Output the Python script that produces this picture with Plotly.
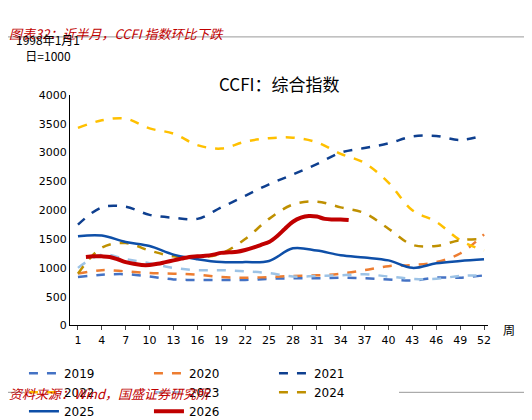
import plotly.graph_objects as go

weeks = [1, 4, 7, 10, 13, 16, 19, 22, 25, 28, 31, 34, 37, 40, 43, 46, 49, 52]
v2019 = [840, 880, 890, 850, 800, 790, 790, 790, 810, 820, 820, 830, 820, 800, 780, 830, 830, 870]
v2020 = [900, 960, 940, 910, 900, 880, 840, 830, 840, 860, 870, 900, 960, 1030, 1050, 1100, 1250, 1580]
v2021 = [1750, 2050, 2060, 1920, 1870, 1850, 2050, 2250, 2450, 2620, 2800, 3000, 3080, 3160, 3280, 3290, 3220, 3300]
v2022 = [3430, 3560, 3590, 3420, 3330, 3130, 3070, 3190, 3250, 3260, 3180, 2980, 2820, 2480, 2000, 1800, 1480, 1300]
v2023 = [1000, 1230, 1150, 1080, 1000, 960, 960, 940, 910, 850, 860, 870, 890, 850, 810, 810, 860, 870]
v2024 = [900, 1350, 1430, 1300, 1200, 1180, 1250, 1500, 1850, 2100, 2150, 2050, 1950, 1680, 1400, 1380, 1480, 1500]
v2025 = [1550, 1560, 1450, 1380, 1230, 1150, 1100, 1100, 1120, 1340, 1300, 1220, 1180, 1130, 1000, 1080, 1120, 1150]
weeks2026 = list(range(2, 36))
v2026 = [1190, 1200, 1200, 1190, 1150, 1100, 1070, 1050, 1050, 1070, 1100, 1130, 1160, 1190, 1200, 1210, 1230,
         1260, 1270, 1280, 1310, 1350, 1400, 1450, 1550, 1680, 1800, 1870, 1900, 1890, 1850, 1840, 1840, 1830]

series = [
    ("2019", weeks, v2019, "#4472C4", "dash", 2.5),
    ("2020", weeks, v2020, "#ED7D31", "dash", 2.5),
    ("2021", weeks, v2021, "#0E3F8F", "dash", 2.5),
    ("2022", weeks, v2022, "#FFC000", "dash", 2.5),
    ("2023", weeks, v2023, "#9DC3E6", "dash", 2.5),
    ("2024", weeks, v2024, "#BF9000", "dash", 2.5),
    ("2025", weeks, v2025, "#0E4FA8", "solid", 2.5),
    ("2026", weeks2026, v2026, "#C00000", "solid", 4),
]

fig = go.Figure()
for name, x, y, color, dash, w in series:
    fig.add_trace(go.Scatter(x=x, y=y, name=name, mode="lines",
                             line=dict(color=color, dash=dash, width=w, shape="spline")))

fig.update_layout(
    width=532, height=420, plot_bgcolor="white", paper_bgcolor="white",
    margin=dict(l=62, r=52, t=87, b=95),
    font=dict(family="DejaVu Sans, Noto Sans CJK SC", size=11, color="black"),
    legend=dict(orientation="h", xref="container", yref="container", x=0.03, y=0.165,
                yanchor="top", entrywidth=80, font=dict(size=12), tracegroupgap=0),
)
fig.update_xaxes(range=[0, 52.5], tickvals=weeks, showline=True, linecolor="black",
                 ticks="outside", ticklen=4, showgrid=False, zeroline=False)
fig.update_yaxes(range=[0, 4000], dtick=500, showline=True, linecolor="black",
                 ticks="", showgrid=False, zeroline=False)

def py(p):
    return (325 - p) / 238

fig.add_annotation(text="<i>图表32：近半月，CCFI 指数环比下跌</i>", xref="paper", yref="paper",
                   x=-62 / 410, y=py(12), xanchor="left", showarrow=False,
                   font=dict(family="Noto Sans CJK SC", size=13, color="#C00000"))
fig.add_annotation(text="<i>资料来源：Wind，国盛证券研究所</i>", xref="paper", yref="paper",
                   x=-62 / 410, y=py(407), xanchor="left", showarrow=False,
                   font=dict(family="Noto Sans CJK SC", size=13, color="#C00000"))
fig.add_annotation(text="CCFI：综合指数", xref="paper", yref="paper", x=0.5, y=py(60),
                   showarrow=False, font=dict(family="Noto Sans CJK SC", size=17))
fig.add_annotation(text="1998年1月1<br>日=1000", xref="paper", yref="paper", x=-55 / 410, y=py(57),
                   xanchor="left", yanchor="bottom", align="center", showarrow=False,
                   font=dict(family="Noto Sans CJK SC", size=12))
fig.add_annotation(text="周", xref="paper", yref="paper", x=1.03, y=py(340),
                   xanchor="left", showarrow=False, font=dict(family="Noto Sans CJK SC", size=12))
for p in (27, 394):
    fig.add_shape(type="line", xref="paper", yref="paper", x0=-62 / 410, x1=1 + 45 / 410,
                  y0=py(p), y1=py(p), line=dict(color="#999999", width=1))

fig.write_html("out.html")
